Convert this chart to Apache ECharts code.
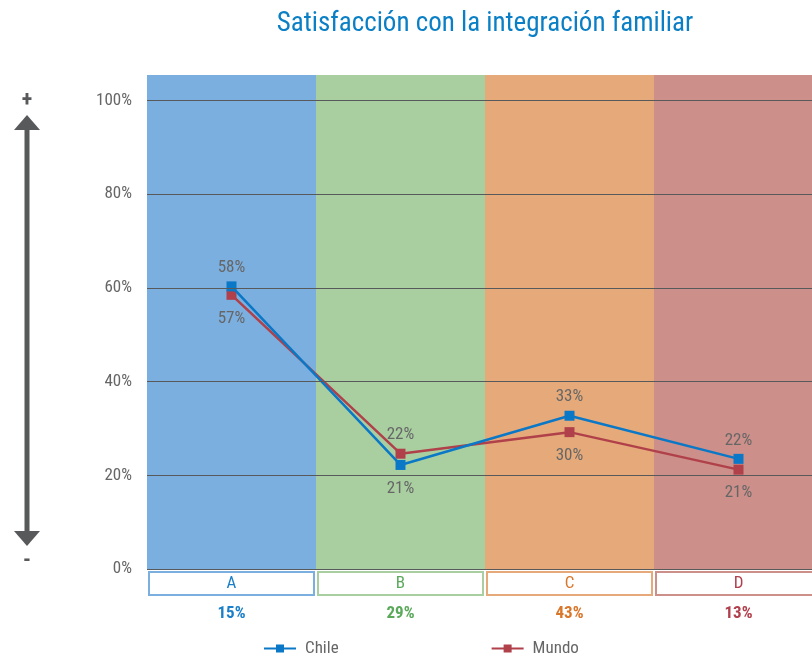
<!DOCTYPE html>
<html>
<head>
<meta charset="utf-8">
<script src="https://cdn.jsdelivr.net/npm/echarts@6/dist/echarts.min.js"></script>
<style>
html,body{margin:0;padding:0;background:#fff;}
#chart{width:812px;height:655px;}
</style>
</head>
<body>
<div id="chart"></div>
<script>
// ---- data ----
const categories = ['A', 'B', 'C', 'D'];
const categoryShares = ['15%', '29%', '43%', '13%'];
const chileValues = [60.3, 22.2, 32.7, 23.5];
const mundoValues = [58.5, 24.6, 29.2, 21.2];
const chileLabels = ['58%', '21%', '33%', '22%'];
const mundoLabels = ['57%', '22%', '30%', '21%'];
const chileLabelPos = ['top', 'bottom', 'top', 'top'];
const mundoLabelPos = ['bottom', 'top', 'bottom', 'bottom'];
const yTicks = [0, 20, 40, 60, 80, 100];
const yMax = 105.4;

// ---- styles ----
const FONT = "'Roboto Condensed', 'Roboto', sans-serif";
const bandColors = ['#7bafdf', '#a9cfa1', '#e6aa7a', '#cc8f89'];
const textColors = ['#1a7fc8', '#5ba95b', '#d9762a', '#b0404c'];
const chileColor = '#0a78c6';
const mundoColor = '#b0404a';
const gray = '#58595b';

const rich = {};
categories.forEach((c, i) => {
  rich['b' + i] = {
    width: 163, height: 21, align: 'center', verticalAlign: 'middle',
    backgroundColor: '#fff', borderColor: bandColors[i], borderWidth: 2,
    color: textColors[i], fontSize: 17, fontFamily: FONT, lineHeight: 23
  };
  rich['p' + i] = {
    color: textColors[i], fontSize: 17, fontWeight: 'bold', fontFamily: FONT,
    lineHeight: 37, align: 'center'
  };
});

function pointData(vals, labels, pos) {
  return vals.map((v, i) => ({
    value: v,
    label: { show: true, position: pos[i], formatter: labels[i], distance: pos[i] === 'top' ? 5 : 10 }
  }));
}

const chart = echarts.init(document.getElementById('chart'), null, { renderer: 'canvas' });
chart.setOption({
  animation: false,
  backgroundColor: '#fff',
  title: {
    text: 'Satisfacción con la integración familiar',
    left: 480, top: 6, textAlign: 'center',
    textStyle: { color: '#0a7fc5', fontSize: 27, fontWeight: 'normal', fontFamily: FONT }
  },
  legend: {
    data: ['Chile', 'Mundo'],
    left: 258, top: 635,
    itemWidth: 32, itemHeight: 10, itemGap: 152,
    textStyle: { color: '#666', fontSize: 17, fontFamily: FONT, padding: [0, 0, 0, 4] }
  },
  grid: { left: 147, top: 75, width: 676, height: 494, outerBoundsMode: 'none', containLabel: false },
  xAxis: {
    type: 'category',
    data: categories,
    boundaryGap: true,
    axisLine: { show: false },
    axisTick: { show: false },
    axisLabel: {
      margin: 3,
      interval: 0,
      formatter: (v, i) => `{b${i}|${v}}\n{p${i}|${categoryShares[i]}}`,
      rich: rich
    }
  },
  yAxis: {
    type: 'value',
    min: 0, max: yMax, interval: 20,
    axisLine: { show: false },
    axisTick: { show: false },
    splitLine: { show: false },
    axisLabel: {
      margin: 15,
      color: '#666', fontSize: 17, fontFamily: FONT,
      showMaxLabel: false,
      formatter: v => (yTicks.indexOf(v) >= 0 ? v + '%' : '')
    }
  },
  series: [
    {
      type: 'bar',
      name: 'bands',
      barWidth: '100%',
      silent: true,
      z: 0,
      data: categories.map((c, i) => ({ value: yMax, itemStyle: { color: bandColors[i] } })),
      markLine: {
        silent: true,
        symbol: 'none',
        label: { show: false },
        lineStyle: { color: gray, width: 1, type: 'solid' },
        data: yTicks.map(t => ({ yAxis: t }))
      }
    },
    {
      type: 'line',
      name: 'Chile',
      data: pointData(chileValues, chileLabels, chileLabelPos),
      symbol: 'rect', symbolSize: 10,
      lineStyle: { color: chileColor, width: 2.5 },
      itemStyle: { color: chileColor },
      label: { color: '#666', fontSize: 17, fontFamily: FONT },
      z: 4
    },
    {
      type: 'line',
      name: 'Mundo',
      data: pointData(mundoValues, mundoLabels, mundoLabelPos),
      symbol: 'rect', symbolSize: 10,
      lineStyle: { color: mundoColor, width: 2.5 },
      itemStyle: { color: mundoColor },
      label: { color: '#666', fontSize: 17, fontFamily: FONT },
      z: 3
    }
  ],
  graphic: [
    { type: 'rect', shape: { x: 24.5, y: 128, width: 5, height: 405 }, style: { fill: gray } },
    { type: 'polygon', shape: { points: [[27, 115], [14, 130], [40, 130]] }, style: { fill: gray } },
    { type: 'polygon', shape: { points: [[27, 546], [14, 531], [40, 531]] }, style: { fill: gray } },
    { type: 'text', x: 27, y: 100, style: { text: '+', fill: gray, fontSize: 22, fontWeight: 'bold', fontFamily: FONT, align: 'center', verticalAlign: 'middle' } },
    { type: 'text', x: 27, y: 561, style: { text: '-', fill: gray, fontSize: 22, fontWeight: 'bold', fontFamily: FONT, align: 'center', verticalAlign: 'middle' } }
  ]
});
</script>
</body>
</html>
